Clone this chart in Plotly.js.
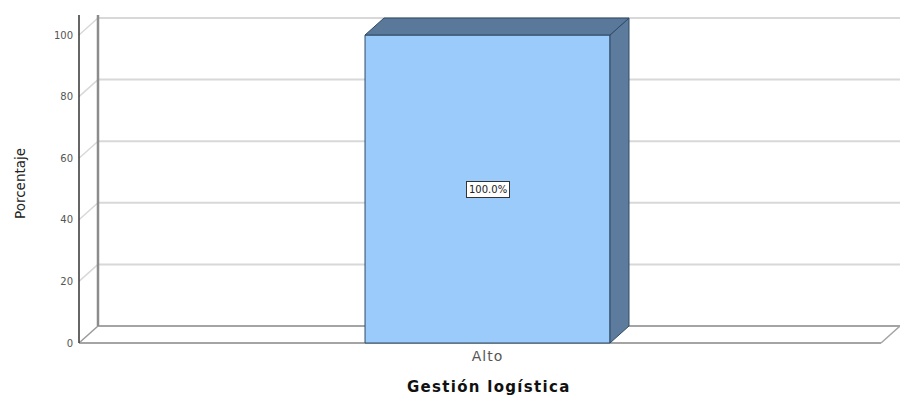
<!DOCTYPE html>
<html>
<head>
<meta charset="utf-8">
<script src="https://cdn.plot.ly/plotly-3.0.1.min.js"></script>
<style>
  html, body { margin: 0; padding: 0; background: #ffffff; }
  #chart { width: 902px; height: 395px; }
  .annotation[data-index="2"] text { letter-spacing: 1.3px; }
  .xtick text { letter-spacing: 1px; }
</style>
</head>
<body>
<div id="chart"></div>
<script>
// ---- data ----
const categories = ['Alto'];
const percentages = [100.0];
const valueLabels = ['100.0%'];
const yTickValues = [0, 20, 40, 60, 80, 100];
const yTickLabels = ['0', '20', '40', '60', '80', '100'];
const xTitle = 'Gestión logística';
const yTitle = 'Porcentaje';

// ---- geometry / style ----
const xRange = [-1.3438, 1.347];
const yRange = [-0.974, 106.5];
const wallX = -1.334;    // front-left wall edge
const wallTop = 106.5;
const barWidth = 0.8;
const depthX = 0.062;   // 3D depth offset in x units
const depthY = 5.52;    // 3D depth offset in y units

const gridColor = '#d8d8d8';
const floorColor = '#a4a4a4';
const frontFace = '#9bcbfa';
const sideFace = '#5d7c9d';
const topFace = '#5a7899';
const edgeColor = '#2f4a66';

const shapes = [];
const xL = wallX, xR = xRange[1], yT = wallTop;

// back wall gridlines
yTickValues.forEach(v => {
  if (v > 0) {
    shapes.push({type: 'line', xref: 'x', yref: 'y', x0: xL + depthX, x1: xR,
      y0: v + depthY, y1: v + depthY, line: {color: gridColor, width: 2}, layer: 'below'});
  }
  // left wall diagonals
  shapes.push({type: 'line', xref: 'x', yref: 'y', x0: xL, x1: xL + depthX,
    y0: v, y1: v + depthY, line: {color: v === 0 ? '#9a9a9a' : gridColor, width: 1.5}, layer: 'below'});
});
// floor
shapes.push({type: 'line', xref: 'x', yref: 'y', x0: xL + depthX, x1: xR, y0: depthY, y1: depthY,
  line: {color: floorColor, width: 2}, layer: 'below'});
shapes.push({type: 'line', xref: 'x', yref: 'y', x0: xL, x1: xR - depthX, y0: 0, y1: 0,
  line: {color: floorColor, width: 2}, layer: 'below'});
shapes.push({type: 'line', xref: 'x', yref: 'y', x0: xR - depthX, x1: xR, y0: 0, y1: depthY,
  line: {color: floorColor, width: 1.5}, layer: 'below'});
// left wall verticals
shapes.push({type: 'line', xref: 'x', yref: 'y', x0: xL + depthX, x1: xL + depthX, y0: depthY, y1: yT,
  line: {color: '#8c8c8c', width: 2.5}, layer: 'below'});
shapes.push({type: 'line', xref: 'x', yref: 'y', x0: xL, x1: xL, y0: 0, y1: yT,
  line: {color: '#333333', width: 1.5}, layer: 'below'});

// bar side and top faces, computed from the bar data
categories.forEach((c, i) => {
  const v = percentages[i];
  const x0 = i - barWidth / 2, x1 = i + barWidth / 2;
  shapes.push({type: 'path', xref: 'x', yref: 'y',
    path: `M ${x1},0 L ${x1 + depthX},${depthY} L ${x1 + depthX},${v + depthY} L ${x1},${v} Z`,
    fillcolor: sideFace, line: {color: edgeColor, width: 1}, layer: 'above'});
  shapes.push({type: 'path', xref: 'x', yref: 'y',
    path: `M ${x0},${v} L ${x0 + depthX},${v + depthY} L ${x1 + depthX},${v + depthY} L ${x1},${v} Z`,
    fillcolor: topFace, line: {color: edgeColor, width: 1}, layer: 'above'});
});

const trace = {
  type: 'bar',
  x: categories,
  y: percentages,
  width: barWidth,
  marker: {color: frontFace, line: {color: edgeColor, width: 1}},
  hoverinfo: 'skip'
};

const annotations = [
  {x: 0, y: percentages[0] / 2, xref: 'x', yref: 'y', text: valueLabels[0], showarrow: false,
   font: {family: 'DejaVu Sans', size: 10, color: '#222'}, bgcolor: '#ffffff',
   bordercolor: '#333333', borderwidth: 1, borderpad: 2},
  {x: -0.068, y: 0.4924, xref: 'paper', yref: 'paper', text: yTitle, showarrow: false, textangle: -90,
   xanchor: 'center', yanchor: 'middle', font: {family: 'DejaVu Sans', size: 13.5, color: '#222'}},
  {x: 0.5012, y: -0.124, xref: 'paper', yref: 'paper', text: '<b>' + xTitle + '</b>', showarrow: false,
   xanchor: 'center', yanchor: 'middle', font: {family: 'DejaVu Sans', size: 15, color: '#111'}}
];

const layout = {
  width: 902, height: 395,
  margin: {l: 76, r: 2, t: 15, b: 49, pad: 0},
  paper_bgcolor: '#ffffff', plot_bgcolor: '#ffffff',
  showlegend: false,
  xaxis: {type: 'category', range: xRange, showgrid: false, zeroline: false, showline: false,
    ticks: '', tickfont: {family: 'DejaVu Sans', size: 14, color: '#555'}, fixedrange: true},
  yaxis: {range: yRange, tickvals: yTickValues, ticktext: yTickLabels, showgrid: false,
    zeroline: false, showline: false, ticks: '', ticklabelstandoff: 2,
    tickfont: {family: 'DejaVu Sans', size: 10, color: '#555'}, fixedrange: true},
  shapes: shapes,
  annotations: annotations
};

Plotly.newPlot('chart', [trace], layout, {displayModeBar: false, staticPlot: true});
</script>
</body>
</html>
